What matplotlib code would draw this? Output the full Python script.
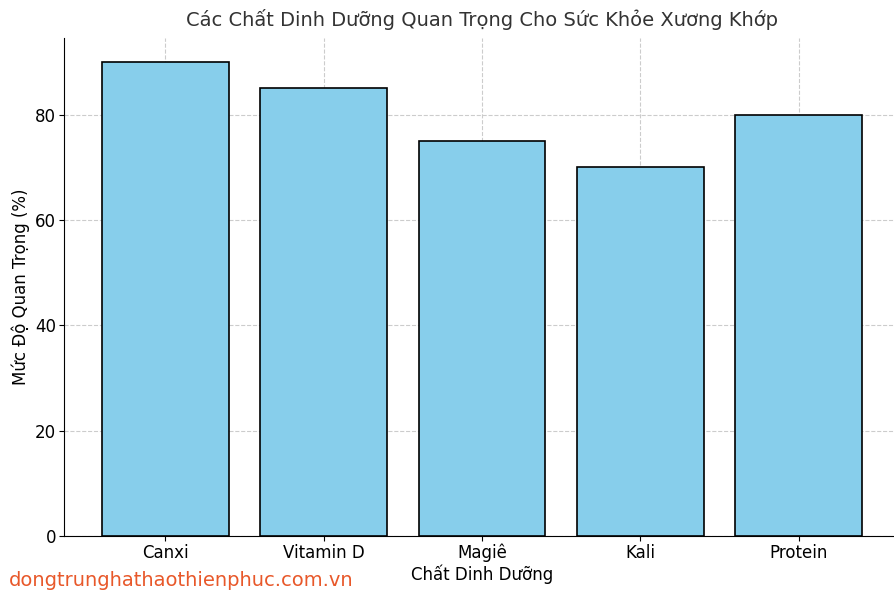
import matplotlib
matplotlib.use("Agg")
import matplotlib.pyplot as plt

categories = ["Canxi", "Vitamin D", "Magiê", "Kali", "Protein"]
values = [90, 85, 75, 70, 80]

fig = plt.figure(figsize=(8.95, 5.96), dpi=100)
ax = fig.add_axes([0.0715, 0.1007, 0.934, 0.835])
ax.bar(range(len(categories)), values, width=0.8, color="#87CEEB", edgecolor="black", linewidth=1.2, zorder=3)
ax.set_xticks(range(len(categories)))
ax.set_xticklabels(categories)
ax.set_xlim(-0.64, 4.64)
ax.set_ylim(0, 94.5)
ax.set_yticks([0, 20, 40, 60, 80])
ax.spines["top"].set_visible(False)
ax.spines["right"].set_visible(False)
ax.grid(True, linestyle="--", color="#cccccc", linewidth=0.8, zorder=0)
ax.tick_params(labelsize=12, pad=2)
ax.set_title("Các Chất Dinh Dưỡng Quan Trọng Cho Sức Khỏe Xương Khớp", fontsize=14, color="#333333", pad=9)
ax.set_xlabel("Chất Dinh Dưỡng", fontsize=12, labelpad=2)
ax.set_ylabel("Mức Độ Quan Trọng (%)", fontsize=12)
fig.text(0.01, 0.017, "dongtrunghathaothienphuc.com.vn", color="#e8582a", fontsize=14)
fig.savefig("out.png", dpi=100)
